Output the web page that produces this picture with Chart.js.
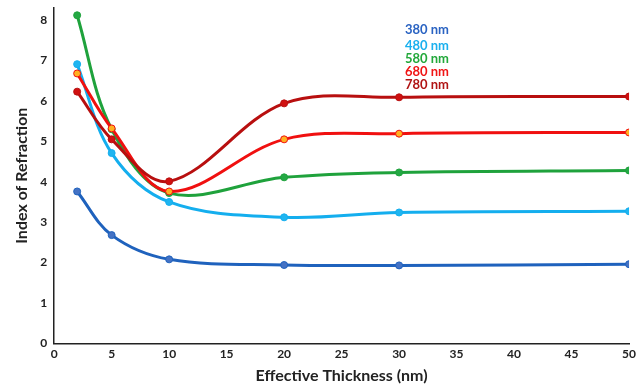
<!DOCTYPE html>
<html>
<head>
<meta charset="utf-8">
<script src="https://cdn.jsdelivr.net/npm/chart.js@4"></script>
<style>
  html, body { margin: 0; padding: 0; background: #fff; }
  #wrap { width: 640px; height: 387px; }
</style>
</head>
<body>
<div id="wrap"><canvas id="lineChart"></canvas></div>
<script>
// données
const thickness = [2, 5, 10, 20, 30, 50];
const n380 = [3.76, 2.68, 2.08, 1.94, 1.93, 1.96];
const n480 = [6.91, 4.71, 3.50, 3.12, 3.24, 3.27];
const n580 = [8.12, 5.30, 3.72, 4.11, 4.23, 4.28];
const n680 = [6.68, 5.32, 3.76, 5.05, 5.19, 5.22];
const n780 = [6.23, 5.05, 4.01, 5.94, 6.09, 6.11];
const seriesLabels = ['380 nm', '480 nm', '580 nm', '680 nm', '780 nm'];
const xTicks = [0, 5, 10, 15, 20, 25, 30, 35, 40, 45, 50];
const yTicks = [0, 1, 2, 3, 4, 5, 6, 7, 8];

const FONT = 'Lato, "Open Sans", sans-serif';

function serie(label, values, line, fill, order) {
    return {
        label: label,
        data: thickness.map((x, i) => ({ x: x, y: values[i] })),
        borderColor: line,
        backgroundColor: fill,
        pointBackgroundColor: fill,
        pointBorderColor: line,
        pointBorderWidth: 1,
        pointRadius: 3.5,
        borderWidth: 3,
        tension: 0.35,
        order: order,
    };
}

const legendColors = ['#2a63c2', '#1ab0ee', '#22a83a', '#f01414', '#b01414'];

// légende dessinée comme texte dans le graphique
const textLegend = {
    id: 'textLegend',
    afterDraw(chart) {
        const ctx = chart.ctx;
        ctx.save();
        ctx.font = 'bold 13px ' + FONT;
        ctx.textBaseline = 'middle';
        ctx.textAlign = 'left';
        const ys = [30, 46, 59, 72, 85];
        seriesLabels.forEach((t, i) => {
            ctx.fillStyle = legendColors[i];
            ctx.fillText(t, 405, ys[i]);
        });
        ctx.restore();
    }
};

const ctx = document.getElementById('lineChart').getContext('2d');
const lineChart = new Chart(ctx, {
    type: 'line',
    data: {
        datasets: [
            serie(seriesLabels[0], n380, '#1f62bd', '#4472c4', 5),
            serie(seriesLabels[1], n480, '#14aeee', '#1fb5f0', 4),
            serie(seriesLabels[2], n580, '#1fa23c', '#24a844', 3),
            serie(seriesLabels[3], n680, '#f01010', '#ffb020', 2),
            serie(seriesLabels[4], n780, '#b80f0f', '#d01010', 1),
        ]
    },
    options: {
        responsive: true,
        maintainAspectRatio: false,
        animation: false,
        layout: { padding: { left: 12, right: 9, top: 8, bottom: 2 } },
        plugins: {
            legend: { display: false },
            tooltip: { enabled: false },
        },
        scales: {
            x: {
                type: 'linear',
                min: 0,
                max: 50,
                afterBuildTicks: (s) => { s.ticks = xTicks.map(v => ({ value: v })); },
                grid: { display: false, drawTicks: false },
                border: { color: '#222', width: 1.5 },
                ticks: { color: '#222', font: { family: FONT, size: 12, weight: 'bold' }, padding: 4 },
                title: {
                    display: true,
                    text: 'Effective Thickness (nm)',
                    color: '#222',
                    font: { family: FONT, size: 16, weight: 'bold' },
                    padding: { top: 0, bottom: 0 },
                },
            },
            y: {
                min: 0,
                max: 8.3,
                afterBuildTicks: (s) => { s.ticks = yTicks.map(v => ({ value: v })); },
                afterFit: (s) => { s.paddingTop = 0; },
                grid: { display: false, drawTicks: false },
                border: { color: '#222', width: 1.5 },
                ticks: { color: '#222', font: { family: FONT, size: 12, weight: 'bold' }, padding: 7 },
                title: {
                    display: true,
                    text: 'Index of Refraction',
                    color: '#222',
                    font: { family: FONT, size: 16, weight: 'bold' },
                    padding: { top: 0, bottom: 2 },
                },
            },
        },
    },
    plugins: [textLegend],
});
</script>
</body>
</html>
